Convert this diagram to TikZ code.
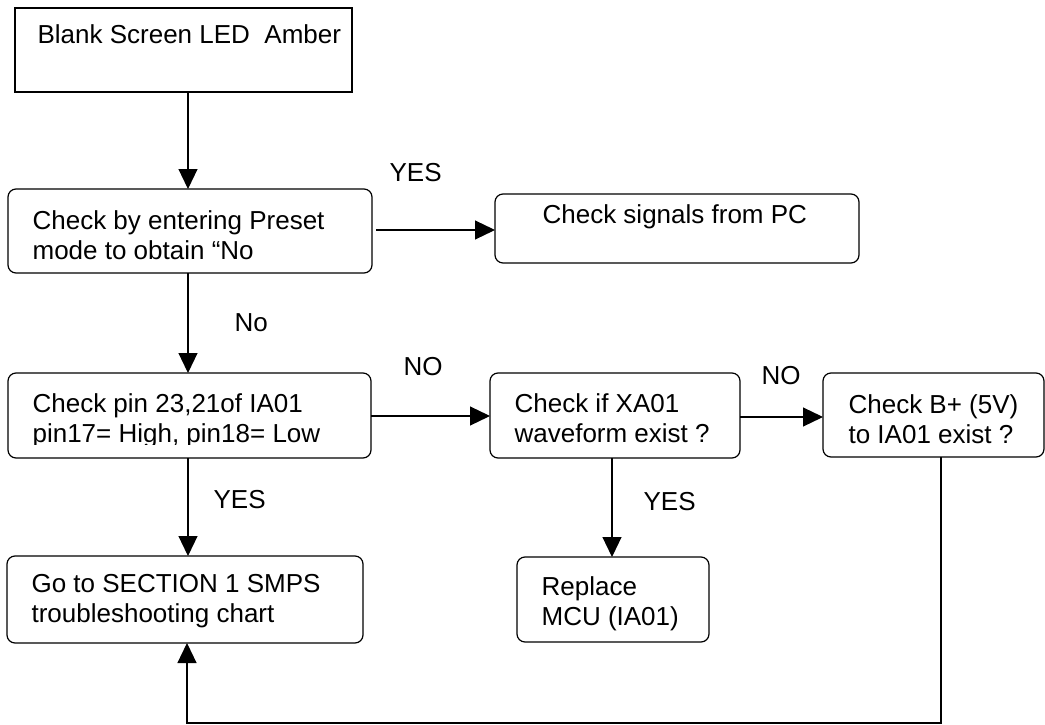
\documentclass[tikz,border=0pt]{standalone}
\usepackage{fontspec}
\setmainfont{Liberation Sans}
\usetikzlibrary{arrows.meta}
\begin{document}
\begin{tikzpicture}[x=1pt,y=-1pt,
  line width=1.2pt,
  box/.style={draw, line width=1.2pt, anchor=north west, inner sep=0pt, outer sep=0pt},
  rbox/.style={box, rounded corners=8pt},
  txt/.style={anchor=north west, inner sep=0pt, align=left, font=\fontsize{26}{30}\selectfont},
  lbl/.style={anchor=base west, inner sep=0pt, font=\fontsize{26}{30}\selectfont},
  arr/.style={-{Triangle[length=20pt,width=19pt]}, line width=1.2pt}]
\useasboundingbox (0,0) rectangle (1045,725);

% boxes
\node[box,  minimum width=337pt, minimum height=84pt] (b1) at (15,8) {};
\node[rbox, minimum width=364pt, minimum height=84pt] (b2) at (8,189) {};
\node[rbox, minimum width=364pt, minimum height=69pt] (b3) at (495,194) {};
\node[rbox, minimum width=363pt, minimum height=85pt] (b4) at (8,373) {};
\node[rbox, minimum width=250pt, minimum height=85pt] (b5) at (490,373) {};
\node[rbox, minimum width=221pt, minimum height=84pt] (b6) at (823,373) {};
\node[rbox, minimum width=356pt, minimum height=87pt] (b7) at (7,556) {};
\node[rbox, minimum width=192pt, minimum height=85pt] (b8) at (517,557) {};

% texts
\node[txt] (t1) at (37,24) {Blank Screen LED\ \ Amber};
\node[txt] (t2) at (32,210) {Check by entering Preset\\mode to obtain “No};
\node[txt] (t3) at (542,204) {Check signals from PC};
\begin{scope}
  \clip (8,373) rectangle (371,444);
  \node[txt] (t4) at (32,393) {Check pin 23,21of IA01\\pin17= High, pin18= Low};
\end{scope}
\node[txt] (t5) at (514,393) {Check if XA01\\waveform exist ?};
\node[txt] (t6) at (848,394) {Check B+ (5V)\\to IA01 exist ?};
\node[txt] (t7) at (31,574) {Go to SECTION 1 SMPS\\troubleshooting chart};
\node[txt] (t8) at (541,576) {Replace\\MCU (IA01)};

% labels
\node[lbl] (l1) at (389,181) {YES};
\node[lbl] (l2) at (234,331) {No};
\node[lbl] (l3) at (403,375) {NO};
\node[lbl] (l4) at (761,384) {NO};
\node[lbl] (l5) at (213,508) {YES};
\node[lbl] (l6) at (643,510) {YES};

% guide coordinates
\coordinate (xa) at (188,0);
\coordinate (xb) at (612,0);
\coordinate (xc) at (941,0);
\coordinate (xd) at (187,0);
\coordinate (ya) at (0,230);
\coordinate (yb) at (0,416);
\coordinate (yc) at (0,417);
\coordinate (ye) at (0,723);

% connectors
\draw[arr] (xa |- b1.south) -- (xa |- b2.north);
\draw[arr] (xa |- b2.south) -- (xa |- b4.north);
\draw[arr] (xa |- b4.south) -- (xa |- b7.north);
\draw[arr] ([xshift=4pt]b2.east |- ya) -- (b3.west |- ya);
\draw[arr] (b4.east |- yb) -- (b5.west |- yb);
\draw[arr] (b5.east |- yc) -- (b6.west |- yc);
\draw[arr] (xb |- b5.south) -- (xb |- b8.north);
\draw[arr] (xc |- b6.south) -- (xc |- ye) -- (xd |- ye) -- (xd |- b7.south);
\end{tikzpicture}
\end{document}
